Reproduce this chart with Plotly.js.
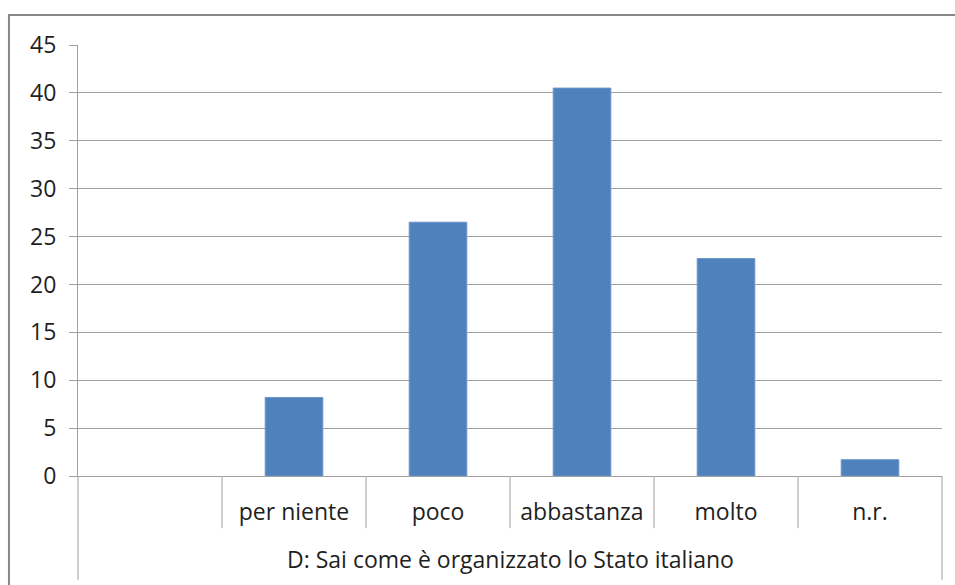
<!DOCTYPE html>
<html>
<head>
<meta charset="utf-8">
<script src="https://cdn.plot.ly/plotly-3.0.1.min.js"></script>
<style>html,body{margin:0;padding:0;background:#fff;}#chart{width:955px;height:585px;}</style>
</head>
<body>
<div id="chart"></div>
<script>
const categories = ["", "per niente", "poco", "abbastanza", "molto", "n.r."];
const values = [null, 8.2, 26.5, 40.5, 22.7, 1.7];
const groupLabel = "D: Sai come è organizzato lo Stato italiano";
const yTicks = [0, 5, 10, 15, 20, 25, 30, 35, 40, 45];

const idx = categories.map((c, i) => i);
const n = categories.length;
const FONT = "Open Sans, sans-serif";
const FS = 23;
const TXT = "#1f1f1f";
const GRID = "#a0a0a0";

const shapes = [];
// separators between inner categories (from the first labelled category on)
for (let i = 1; i < n; i++) {
  shapes.push({type: "line", xref: "paper", yref: "paper", x0: i / n, x1: i / n, y0: 0, y1: -0.121,
    line: {color: GRID, width: 1}});
}
// outer group edges
[0, 1].forEach(x => shapes.push({type: "line", xref: "paper", yref: "paper", x0: x, x1: x, y0: 0, y1: -0.241,
  line: {color: GRID, width: 1}}));
// chart frame
shapes.push({type: "rect", xref: "paper", yref: "paper", x0: -0.0799, x1: 1.2, y0: -0.4, y1: 1.0696,
  line: {color: "#878787", width: 2}, fillcolor: "rgba(0,0,0,0)"});

const data = [{
  type: "bar",
  x: idx,
  y: values,
  width: 0.4,
  marker: {color: "#4f81bd", line: {color: "#6b95c8", width: 1}},
  hoverinfo: "skip"
}];

const layout = {
  width: 955, height: 585,
  margin: {l: 78, r: 13, t: 45, b: 109},
  paper_bgcolor: "#fff", plot_bgcolor: "#fff",
  showlegend: false,
  font: {family: FONT, color: TXT, size: FS},
  xaxis: {
    range: [-0.5, n - 0.5],
    tickvals: idx, ticktext: categories,
    showgrid: false, zeroline: false,
    showline: true, linecolor: GRID, linewidth: 1,
    ticks: "", ticklabelstandoff: 15,
    tickfont: {family: FONT, size: FS, color: TXT},
    fixedrange: true
  },
  yaxis: {
    range: [0, 45],
    tickvals: yTicks,
    showgrid: true, gridcolor: GRID, gridwidth: 1,
    zeroline: false,
    showline: true, linecolor: GRID, linewidth: 1,
    ticks: "outside", ticklen: 8, tickcolor: GRID,
    ticklabelstandoff: 8,
    tickfont: {family: FONT, size: FS, color: TXT},
    fixedrange: true
  },
  shapes: shapes,
  annotations: [{
    text: groupLabel, xref: "paper", yref: "paper", x: 0.5, y: 0,
    xanchor: "center", yanchor: "middle", yshift: -83, showarrow: false,
    font: {family: FONT, size: FS, color: TXT}
  }]
};

Plotly.newPlot("chart", data, layout, {displayModeBar: false, staticPlot: true});
</script>
</body>
</html>
